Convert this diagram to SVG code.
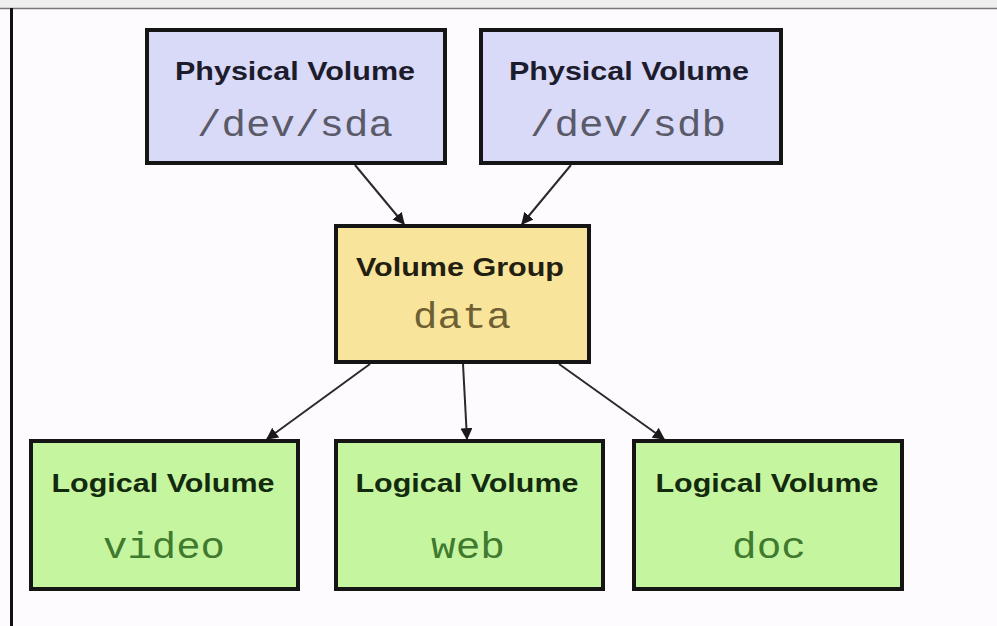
<svg xmlns="http://www.w3.org/2000/svg" width="997" height="626" viewBox="0 0 997 626">
<style>
.box{stroke:#151515;stroke-width:4}
.pv{fill:#d9d9f8}
.vg{fill:#f9e49c}
.lv{fill:#c6f5a0}
.title{font-family:"Liberation Sans",Arial,sans-serif;font-weight:bold;font-size:25px;text-anchor:middle}
.mono{font-family:"Liberation Mono","Courier New",monospace;font-size:36px;text-anchor:middle}
.conn{stroke:#2a2a2a;stroke-width:2;fill:none;marker-end:url(#arr)}
</style>
<defs>
<marker id="arr" viewBox="0 0 10 10" refX="9" refY="5" markerWidth="6" markerHeight="6" orient="auto" markerUnits="strokeWidth">
<path d="M0,0 L10,5 L0,10 z" fill="#1a1a1a"/>
</marker>
</defs>
<rect x="0" y="0" width="997" height="626" fill="#fdfbfd"/>
<rect x="0" y="0" width="997" height="8" fill="#efefef"/>
<line x1="0" y1="8.5" x2="997" y2="8.5" stroke="#777" stroke-width="1.5"/>
<line x1="11.5" y1="8" x2="11.5" y2="626" stroke="#111" stroke-width="3"/>

<g id="connectors">
<line class="conn" x1="355" y1="165" x2="404" y2="224"/>
<line class="conn" x1="571" y1="165" x2="522" y2="224"/>
<line class="conn" x1="370" y1="364" x2="267" y2="439"/>
<line class="conn" x1="463" y1="364" x2="467" y2="439"/>
<line class="conn" x1="559" y1="364" x2="664" y2="439"/>
</g>

<g id="pv-sda">
<rect class="box pv" x="147" y="30" width="298" height="133"/>
<text class="title" x="295" y="80" fill="#1c1c2c" textLength="240" lengthAdjust="spacingAndGlyphs">Physical Volume</text>
<text class="mono" x="295" y="136" fill="#5a5a68" textLength="196" lengthAdjust="spacingAndGlyphs">/dev/sda</text>
</g>

<g id="pv-sdb">
<rect class="box pv" x="481" y="30" width="300" height="133"/>
<text class="title" x="629" y="80" fill="#1c1c2c" textLength="240" lengthAdjust="spacingAndGlyphs">Physical Volume</text>
<text class="mono" x="628" y="136" fill="#5a5a68" textLength="196" lengthAdjust="spacingAndGlyphs">/dev/sdb</text>
</g>

<g id="vg-data">
<rect class="box vg" x="336" y="226" width="253" height="136"/>
<text class="title" x="460" y="276" fill="#221e10" textLength="208" lengthAdjust="spacingAndGlyphs">Volume Group</text>
<text class="mono" x="462" y="328" fill="#6e6032" textLength="98" lengthAdjust="spacingAndGlyphs">data</text>
</g>

<g id="lv-video">
<rect class="box lv" x="31" y="441" width="267" height="148"/>
<text class="title" x="163" y="492" fill="#132a0e" textLength="223" lengthAdjust="spacingAndGlyphs">Logical Volume</text>
<text class="mono" x="164" y="558" fill="#3f7a2e" textLength="122" lengthAdjust="spacingAndGlyphs">video</text>
</g>

<g id="lv-web">
<rect class="box lv" x="336" y="441" width="267" height="148"/>
<text class="title" x="467" y="492" fill="#132a0e" textLength="223" lengthAdjust="spacingAndGlyphs">Logical Volume</text>
<text class="mono" x="468" y="558" fill="#3f7a2e" textLength="74" lengthAdjust="spacingAndGlyphs">web</text>
</g>

<g id="lv-doc">
<rect class="box lv" x="634" y="441" width="268" height="148"/>
<text class="title" x="767" y="492" fill="#132a0e" textLength="223" lengthAdjust="spacingAndGlyphs">Logical Volume</text>
<text class="mono" x="769" y="558" fill="#3f7a2e" textLength="74" lengthAdjust="spacingAndGlyphs">doc</text>
</g>
</svg>
